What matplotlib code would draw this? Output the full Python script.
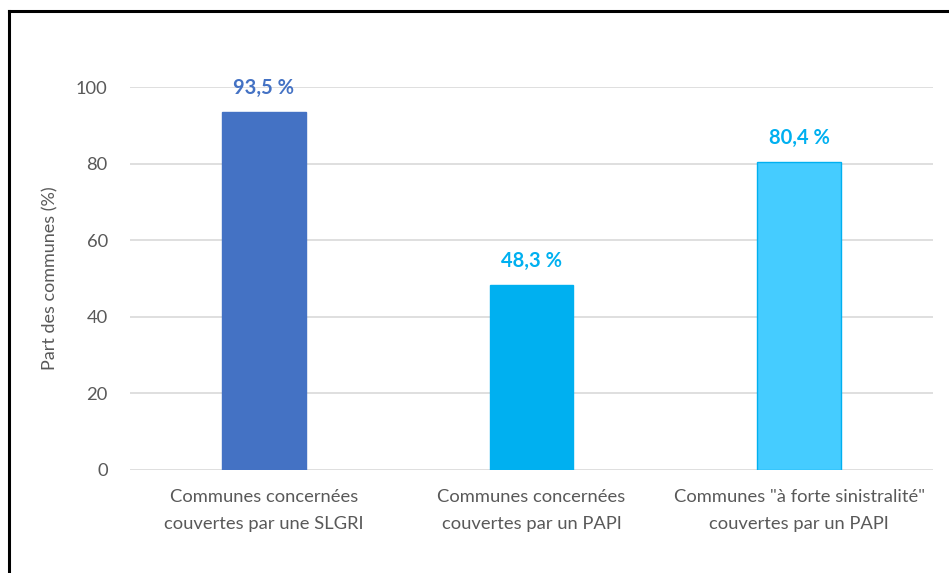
import matplotlib.pyplot as plt
from matplotlib.lines import Line2D

categories = ["Communes concernées\ncouvertes par une SLGRI",
              "Communes concernées\ncouvertes par un PAPI",
              "Communes \"à forte sinistralité\"\ncouvertes par un PAPI"]
values = [93.5, 48.3, 80.4]
labels = ["93,5 %", "48,3 %", "80,4 %"]
bar_colors = ["#4472C4", "#00B0F0", "#45CCFF"]
edge_colors = ["#4472C4", "#00B0F0", "#00B0F0"]
label_colors = ["#4472C4", "#00B0F0", "#00B0F0"]
yticks = [0, 20, 40, 60, 80, 100]

plt.rcParams['font.family'] = ['Lato', 'DejaVu Sans']

fig = plt.figure(figsize=(9.49, 5.73), dpi=100)
ax = fig.add_axes([130/949, 1-470/573, 803/949, 383/573])

x = range(len(values))
rects = ax.bar(x, values, width=0.313, color=bar_colors, edgecolor=edge_colors, linewidth=1, zorder=3)

# data labels above each bar
for rect, lab, col in zip(rects, labels, label_colors):
    ax.text(rect.get_x() + rect.get_width()/2, rect.get_height() + 3.6, lab,
            ha='center', va='bottom', color=col, fontsize=14.5, fontweight='bold', clip_on=False)

ax.set_xlim(-0.5, 2.5)
ax.set_ylim(0, 100)
ax.set_yticks(yticks)
ax.set_xticks(list(x))
ax.set_xticklabels(categories, fontsize=13.2, color='#595959', linespacing=1.8)
ax.tick_params(axis='y', labelsize=13.2, labelcolor='#595959', length=0, pad=16)
ax.tick_params(axis='x', length=0, pad=14)
ax.grid(axis='y', color='#D9D9D9', linewidth=1.2, zorder=0)
ax.set_axisbelow(True)
for s in ax.spines.values():
    s.set_visible(False)
ax.set_ylabel('Part des communes (%)', fontsize=13, color='#595959', labelpad=13)

# black frame (top and left visible)
fig.add_artist(Line2D([9/949, 1], [1-11/573, 1-11/573], color='black', linewidth=2.2, transform=fig.transFigure))
fig.add_artist(Line2D([9/949, 9/949], [0, 1-11/573], color='black', linewidth=2.2, transform=fig.transFigure))

fig.savefig('out.png', dpi=100)
